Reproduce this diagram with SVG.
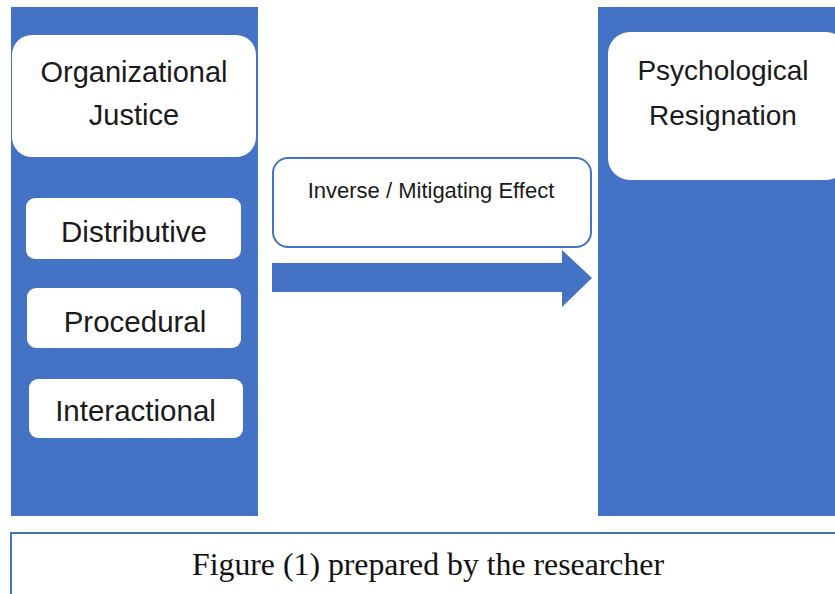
<svg xmlns="http://www.w3.org/2000/svg" width="835" height="594" viewBox="0 0 835 594">
<style>
.panel{fill:#4472C4}
.box{fill:#ffffff}
.lbl{font-family:"Liberation Sans",Arial,sans-serif;fill:#1a1a1a;text-anchor:middle}
.big{font-size:29px}
.mid{font-size:29.5px}
.cap{font-family:"Liberation Serif","Times New Roman",serif;font-size:31.5px;fill:#111;text-anchor:middle}
</style>
<rect width="835" height="594" fill="#ffffff"/>
<g id="left-panel">
<rect class="panel" x="11" y="7" width="247" height="509"/>
</g>
<g id="right-panel">
<rect class="panel" x="598" y="7" width="237" height="509"/>
</g>
<g id="organizational-justice">
<rect class="box" x="12" y="35" width="244" height="122" rx="20"/>
<text class="lbl big" x="134" y="82">Organizational</text>
<text class="lbl big" x="134" y="125">Justice</text>
</g>
<g id="distributive">
<rect class="box" x="26" y="198" width="215" height="61" rx="9"/>
<text class="lbl mid" x="134" y="242">Distributive</text>
</g>
<g id="procedural">
<rect class="box" x="27" y="288" width="214" height="60" rx="9"/>
<text class="lbl mid" x="135" y="332">Procedural</text>
</g>
<g id="interactional">
<rect class="box" x="29" y="379" width="214" height="59" rx="9"/>
<text class="lbl mid" x="135.5" y="421">Interactional</text>
</g>
<g id="psychological-resignation">
<rect class="box" x="608" y="32" width="240" height="148" rx="22"/>
<text class="lbl" style="font-size:28px" x="723" y="80">Psychological</text>
<text class="lbl" style="font-size:28px" x="723" y="125">Resignation</text>
</g>
<g id="effect-label">
<rect x="273" y="158" width="318" height="89" rx="15" fill="#ffffff" stroke="#4472C4" stroke-width="2"/>
<text class="lbl" style="font-size:22px" x="431" y="198">Inverse / Mitigating Effect</text>
</g>
<g id="connectors">
<polygon class="panel" points="272,263 562,263 562,250 592,278 562,307 562,292 272,292"/>
</g>
<g id="caption">
<path d="M11,594 V533 H835" fill="none" stroke="#4472C4" stroke-width="2"/>
<text class="cap" x="428" y="575" textLength="472" lengthAdjust="spacingAndGlyphs">Figure (1) prepared by the researcher</text>
</g>
</svg>
